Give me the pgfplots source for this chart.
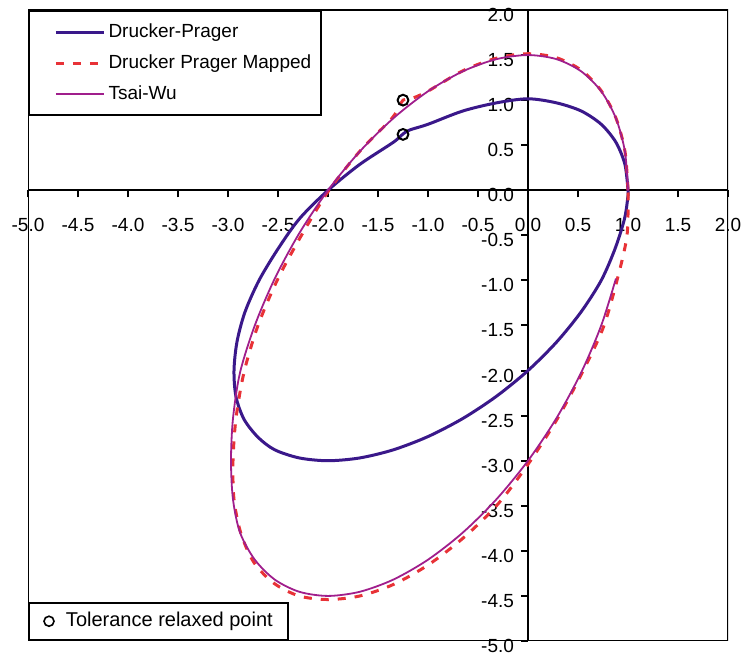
\documentclass[border=0pt]{standalone}
\usepackage{pgfplots}
\pgfplotsset{compat=1.18}
\usepackage{fontspec}
\setmainfont{Liberation Sans}
\definecolor{dpblue}{RGB}{58,24,138}
\definecolor{dpred}{RGB}{232,50,55}
\definecolor{twmag}{RGB}{160,30,140}
\begin{document}
\begin{tikzpicture}
\useasboundingbox (-14pt,-9pt) rectangle (359pt,320.5pt);
\begin{axis}[
  scale only axis, width=350pt, height=315.5pt,
  xmin=-5, xmax=2, ymin=-5, ymax=2,
  axis lines=middle, axis line style={-, line width=1pt},
  tick align=outside, major tick length=3.5pt,
  every tick/.style={black, line width=1pt},
  hide obscured x ticks=false, hide obscured y ticks=false,
  xtick={-5,-4.5,-4,-3.5,-3,-2.5,-2,-1.5,-1,-0.5,0,0.5,1,1.5,2},
  xticklabels={-5.0,-4.5,-4.0,-3.5,-3.0,-2.5,-2.0,-1.5,-1.0,-0.5,0.0,0.5,1.0,1.5,2.0},
  ytick={-5,-4.5,-4,-3.5,-3,-2.5,-2,-1.5,-1,-0.5,0,0.5,1,1.5,2},
  yticklabels={-5.0,-4.5,-4.0,-3.5,-3.0,-2.5,-2.0,-1.5,-1.0,-0.5,0.0,0.5,1.0,1.5,2.0},
  tick label style={font=\fontsize{9.5}{11}\selectfont},
  xticklabel style={yshift=-7pt},
  yticklabel style={yshift=-2.5pt},
  legend style={at={(0,1)}, anchor=north west, draw=black, line width=1pt,
    font=\fontsize{9.5}{11}\selectfont, inner xsep=3.5pt, inner ysep=5pt, row sep=4pt,
    nodes={inner sep=1.5pt}},
  legend cell align=left,
  legend image code/.code={\path[draw=none] (-10pt,0pt) -- (0pt,0pt); \draw[#1] (0pt,0pt) -- (24pt,0pt);},
]
\draw[line width=1pt] (rel axis cs:0,0) rectangle (rel axis cs:1,1);
\addplot[dpblue, line width=1.5pt, smooth] coordinates {
(1.0,0.0) (0.9696,0.2856) (0.8794,0.5321)
(0.7321,0.7321) (0.5321,0.8794) (0.2856,0.9696) (0.0,1.015) (-0.316,0.9696)
(-0.6527,0.8794) (-1.0,0.7321) (-1.18,0.67) (-1.25,0.625) (-1.3473,0.5321)
(-1.684,0.2856) (-2.0,0.0) (-2.2856,-0.316) (-2.50,-0.65) (-2.69,-1.0)
(-2.83,-1.35) (-2.91,-1.68) (-2.94,-2.0) (-2.92,-2.29) (-2.84,-2.54)
(-2.70,-2.74) (-2.5321,-2.8794) (-2.2856,-2.9696) (-2.0,-3.0) (-1.684,-2.9696)
(-1.3473,-2.8794) (-1.0,-2.7321) (-0.6527,-2.5321) (-0.316,-2.2856) (0.0,-2.0)
(0.2856,-1.684) (0.5321,-1.3473) (0.7321,-1.0) (0.87,-0.65) (0.965,-0.316) (1.0,-0.06) (1.0,0.0)
};
\addlegendentry{Drucker-Prager}
\addplot[dpred, line width=1.5pt, dash pattern=on 4pt off 4.5pt, smooth] coordinates {
(1.0,0.0) (0.97,0.43) (0.88,0.80)
(0.735,1.10) (0.535,1.33) (0.285,1.47) (0.0,1.515) (-0.316,1.465) (-0.653,1.325)
(-1.0,1.10) (-1.18,1.01) (-1.25,1.0) (-1.36,0.80) (-1.684,0.43) (-1.99,0.0)
(-2.25,-0.47) (-2.50,-0.98) (-2.70,-1.50) (-2.84,-2.02) (-2.92,-2.53)
(-2.95,-3.0) (-2.94,-3.43) (-2.87,-3.81) (-2.74,-4.13) (-2.54,-4.36)
(-2.29,-4.50) (-2.0,-4.54) (-1.68,-4.50) (-1.34,-4.37) (-0.99,-4.15)
(-0.64,-3.85) (-0.30,-3.48) (0.0,-3.04) (0.28,-2.56) (0.53,-2.05) (0.75,-1.53)
(0.89,-1.0) (0.99,-0.50) (1.0,0.0)
};
\addlegendentry{Drucker Prager Mapped}
\addplot[twmag, line width=0.9pt, smooth] coordinates {
(1.0,0.0) (0.9696,0.4284) (0.8794,0.7981) (0.7321,1.0981) (0.5321,1.3191)
(0.2856,1.4544) (0.0,1.5) (-0.316,1.4544) (-0.6527,1.3191) (-1.0,1.0981)
(-1.3473,0.7981) (-1.684,0.4284) (-2.0,0.0) (-2.2856,-0.4739) (-2.5321,-0.9791)
(-2.7321,-1.5) (-2.8794,-2.0209) (-2.95,-2.53) (-2.97,-3.0) (-2.95,-3.43)
(-2.8794,-3.7981) (-2.7321,-4.0981) (-2.5321,-4.3191) (-2.2856,-4.4544)
(-2.0,-4.5) (-1.684,-4.4544) (-1.3473,-4.3191) (-1.0,-4.0981) (-0.6527,-3.7981)
(-0.316,-3.4284) (0.0,-3.0) (0.2856,-2.5261) (0.5321,-2.0209) (0.7321,-1.5)
(0.8794,-0.9791)
};
\addlegendentry{Tsai-Wu}
\end{axis}
\begin{axis}[
  scale only axis, width=350pt, height=315.5pt,
  xmin=-5, xmax=2, ymin=-5, ymax=2, hide axis,
  legend style={at={(0,0)}, anchor=south west, draw=black, line width=1pt,
    font=\fontsize{10}{11}\selectfont, inner xsep=6pt, inner ysep=3.5pt,
    nodes={inner sep=1.5pt}},
  legend cell align=left,
  legend image code/.code={\path[draw=none] (0pt,0pt) -- (11pt,0pt); \draw[black, line width=0.8pt, fill=none] (4pt,0pt) circle (2.5pt);},
]
\addplot[only marks, mark=o, mark size=2.7pt, black, line width=1pt] coordinates {(-1.25,1.0) (-1.25,0.62)};
\addlegendentry{Tolerance relaxed point}
\end{axis}
\end{tikzpicture}
\end{document}
